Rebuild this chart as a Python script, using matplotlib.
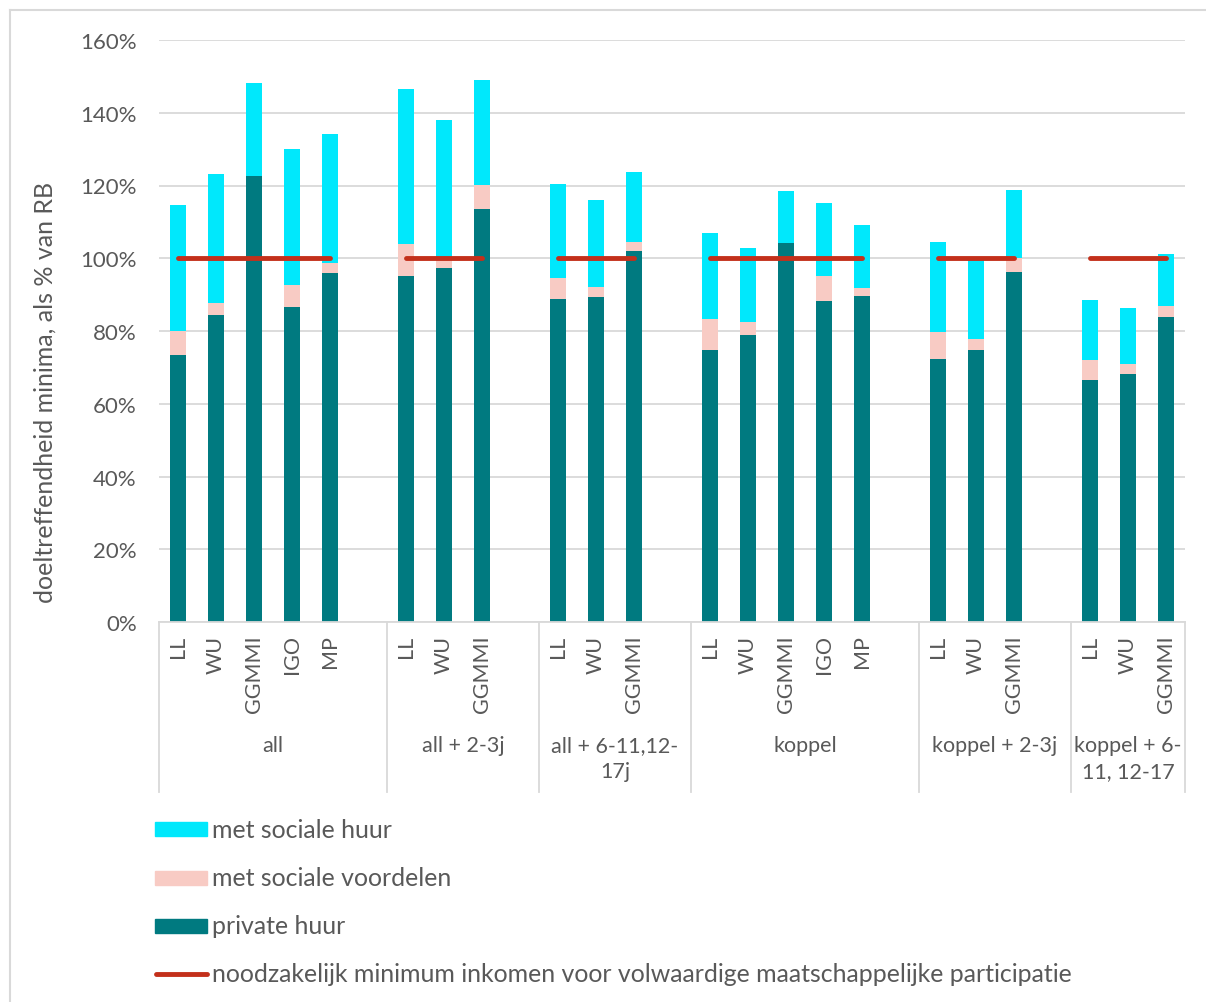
import numpy as np
import matplotlib.pyplot as plt
from matplotlib.patches import Rectangle
from matplotlib.lines import Line2D
from matplotlib.transforms import blended_transform_factory

plt.rcParams['font.family'] = ['Lato', 'DejaVu Sans']

# household types and the minimum-income schemes compared within each
groups = ["all", "all + 2-3j", "all + 6-11,12-\n17j", "koppel", "koppel + 2-3j", "koppel + 6-\n11, 12-17"]
schemes = [
    ["LL", "WU", "GGMMI", "IGO", "MP"],
    ["LL", "WU", "GGMMI"],
    ["LL", "WU", "GGMMI"],
    ["LL", "WU", "GGMMI", "IGO", "MP"],
    ["LL", "WU", "GGMMI"],
    ["LL", "WU", "GGMMI"],
]

# effectiveness levels (% of reference budget)
private_huur = [
    [73.5, 84.5, 122.7, 86.7, 95.9],
    [95.2, 97.2, 113.5],
    [88.8, 89.3, 101.9],
    [74.9, 78.9, 104.2, 88.3, 89.6],
    [72.2, 74.9, 96.1],
    [66.6, 68.3, 83.9],
]
met_sociale_voordelen = [
    [80.1, 87.8, 122.7, 92.6, 98.8],
    [103.9, 100.3, 120.1],
    [94.7, 92.0, 104.6],
    [83.3, 82.6, 104.2, 95.1, 91.8],
    [79.8, 77.9, 100.1],
    [72.0, 70.8, 86.9],
]
met_sociale_huur = [
    [114.7, 123.2, 148.2, 130.1, 134.1],
    [146.6, 138.0, 149.1],
    [120.5, 115.9, 123.6],
    [106.9, 102.8, 118.6, 115.3, 109.1],
    [104.5, 99.8, 118.8],
    [88.5, 86.2, 101.2],
]
minimum = [
    [100, 100, 100, 100, 100],
    [100, 100, 100],
    [100, 100, 100],
    [100, 100, 100, 100, 100],
    [100, 100, 100],
    [100, 100, 100],
]

labels_legend = ["met sociale huur", "met sociale voordelen", "private huur",
                 "noodzakelijk minimum inkomen voor volwaardige maatschappelijke participatie"]

c_huur = "#00E8FC"
c_voord = "#F8CBC4"
c_priv = "#007A80"
c_min = "#C3301B"
c_grid = "#D9D9D9"
c_text = "#595959"

W, H = 1206, 1003
fig = plt.figure(figsize=(W / 100, H / 100), dpi=100)


def fx(x):
    return x / W


def fy(y):
    return 1 - y / H


ax = fig.add_axes([fx(159), fy(623), fx(1185) - fx(159), fy(41) - fy(623)])

pos = 0
tick_pos, tick_lab, bounds, centers = [], [], [-0.5], []
for g, names in enumerate(schemes):
    n = len(names)
    xs = pos + np.arange(n)
    priv = np.array(private_huur[g])
    voord = np.array(met_sociale_voordelen[g])
    huur = np.array(met_sociale_huur[g])
    ax.bar(xs, priv, 0.4, color=c_priv, zorder=2)
    ax.bar(xs, voord - priv, 0.4, bottom=priv, color=c_voord, zorder=2)
    ax.bar(xs, huur - voord, 0.4, bottom=voord, color=c_huur, zorder=2)
    ax.plot(xs, minimum[g], color=c_min, lw=3.5, solid_capstyle='round', zorder=3)
    tick_pos += list(xs)
    tick_lab += names
    # one empty slot after every group except the last
    end = pos + n - 0.5 if g == len(schemes) - 1 else pos + n + 0.5
    centers.append((bounds[-1] + end) / 2)
    bounds.append(end)
    pos += n + 1

ax.set_xlim(-0.5, bounds[-1])
ax.set_ylim(0, 160)
ax.set_yticks(range(0, 161, 20))
ax.set_yticklabels([f"{v}%" for v in range(0, 161, 20)])
ax.yaxis.grid(True, color=c_grid, lw=1.3)
ax.set_axisbelow(True)
for s in ["top", "right", "left"]:
    ax.spines[s].set_visible(False)
ax.spines["bottom"].set_color(c_grid)
ax.spines["bottom"].set_linewidth(1.3)

ax.set_xticks(tick_pos)
ax.set_xticklabels(tick_lab, rotation=90)
ax.tick_params(axis='x', length=0, pad=9, labelsize=15.5, labelcolor=c_text)
ax.tick_params(axis='y', length=0, pad=16, labelsize=16, labelcolor=c_text)

axh = 623 - 41
trans = blended_transform_factory(ax.transData, ax.transAxes)
for b in bounds:
    ax.plot([b, b], [0, -(793 - 623) / axh], transform=trans, clip_on=False,
            color=c_grid, lw=1.3)
for c, name in zip(centers, groups):
    ax.text(c, -(736 - 623) / axh, name, transform=trans, ha='center', va='top',
            fontsize=15.5, color=c_text, linespacing=1.38)

fig.text(fx(45), fy(392), "doeltreffendheid minima, als % van RB", rotation=90,
         ha='center', va='center', fontsize=18, color=c_text)

# legend, stacked vertically under the chart
leg_y = [830, 879, 927, 975]
for y, col in zip(leg_y[:3], [c_huur, c_voord, c_priv]):
    fig.add_artist(Rectangle((fx(155), fy(y + 7)), fx(52), 14 / H, color=col,
                             transform=fig.transFigure))
fig.add_artist(Line2D([fx(156), fx(207)], [fy(975), fy(975)], color=c_min, lw=3.5,
                      solid_capstyle='round'))
for y, lab in zip(leg_y, labels_legend):
    fig.text(fx(212), fy(y), lab, ha='left', va='center', fontsize=17.9, color=c_text)

# chart area border
fig.add_artist(Line2D([fx(10), 1], [fy(11), fy(11)], color=c_grid, lw=1.5))
fig.add_artist(Line2D([fx(10), fx(10)], [fy(11), 0], color=c_grid, lw=1.5))

fig.savefig("out.png", dpi=100)
